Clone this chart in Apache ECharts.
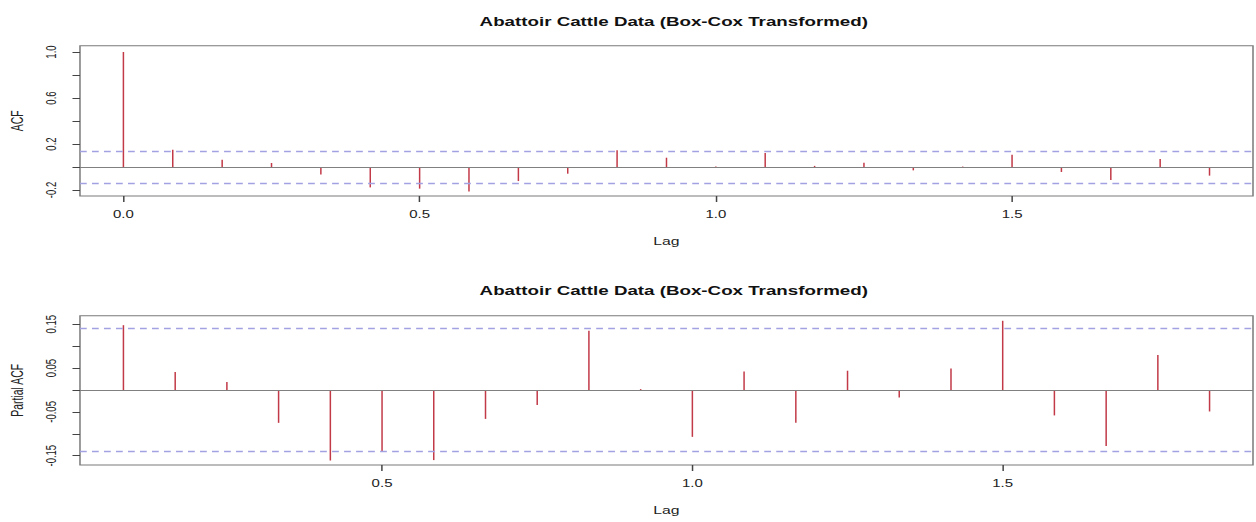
<!DOCTYPE html>
<html><head><meta charset="utf-8">
<script src="https://cdn.jsdelivr.net/npm/echarts@6/dist/echarts.min.js"></script>
<style>
html,body{margin:0;padding:0;background:#fff;overflow:hidden;}
#wrap{width:1256px;height:522px;overflow:hidden;}
#chart{width:837px;height:522px;transform:scaleX(1.5006);transform-origin:0 0;}
</style></head><body><div id="wrap"><div id="chart"></div></div>
<script>
// ---- data ----
var chartTitle = 'Abattoir Cattle Data (Box-Cox Transformed)';
var acfLags = [0, 0.0833, 0.1667, 0.25, 0.3333, 0.4167, 0.5, 0.5833, 0.6667, 0.75, 0.8333, 0.9167,
  1.0, 1.0833, 1.1667, 1.25, 1.3333, 1.4167, 1.5, 1.5833, 1.6667, 1.75, 1.8333];
var acfValues = [1.0, 0.151, 0.064, 0.035, -0.064, -0.177, -0.188, -0.212, -0.122, -0.058, 0.145, 0.081,
  0.005, 0.122, 0.010, 0.038, -0.029, 0.004, 0.107, -0.043, -0.113, 0.070, -0.075];
var pacfLags = [0.0833, 0.1667, 0.25, 0.3333, 0.4167, 0.5, 0.5833, 0.6667, 0.75, 0.8333, 0.9167,
  1.0, 1.0833, 1.1667, 1.25, 1.3333, 1.4167, 1.5, 1.5833, 1.6667, 1.75, 1.8333];
var pacfValues = [0.148, 0.041, 0.018, -0.075, -0.161, -0.139, -0.160, -0.066, -0.034, 0.135, 0.002,
  -0.107, 0.042, -0.075, 0.044, -0.017, 0.049, 0.158, -0.058, -0.128, 0.080, -0.049];
var confLimit = 0.1408;
var acfXTicks = [0, 0.5, 1.0, 1.5];
var pacfXTicks = [0.5, 1.0, 1.5];
var acfYTicks = [-0.2, 0, 0.2, 0.4, 0.6, 0.8, 1.0];
var acfYLabels = [-0.2, 0.2, 0.6, 1.0];
var pacfYTicks = [-0.15, -0.10, -0.05, 0, 0.05, 0.10, 0.15];
var pacfYLabels = [-0.15, -0.05, 0.05, 0.15];

// ---- styles ----
var FONT = '"Liberation Sans", Arial, Helvetica, sans-serif';
var barColor = '#c23a48';
var ciColor = '#a2a2e2';
var boxColor = '#7a7a7a';

function pairs(xs, ys) { return xs.map(function (x, i) { return [x, ys[i]]; }); }

function xAxisCfg(idx, min, max, ticks) {
  return {
    type: 'value', gridIndex: idx, min: min, max: max,
    name: 'Lag', nameLocation: 'middle', nameGap: 40,
    nameTextStyle: { fontSize: 10.5, color: '#222', fontFamily: FONT },
    axisLine: { show: false, onZero: false },
    axisTick: { show: true, length: 6, customValues: ticks, lineStyle: { color: '#444', width: 1 } },
    axisLabel: { show: true, customValues: ticks, margin: 13, fontSize: 10, color: '#222', fontFamily: FONT,
      formatter: function (v) { return v.toFixed(1); } },
    splitLine: { show: false }
  };
}
function yAxisCfg(idx, min, max, ticks, labels, name, digits) {
  return {
    type: 'value', gridIndex: idx, min: min, max: max,
    name: name, nameLocation: 'middle', nameGap: 36, nameRotate: 90,
    nameTextStyle: { fontSize: 10.5, color: '#222', fontFamily: FONT },
    axisLine: { show: false, onZero: false },
    axisTick: { show: true, length: 5, customValues: ticks, lineStyle: { color: '#444', width: 1 } },
    axisLabel: { show: true, customValues: labels, rotate: 90, margin: 14, fontSize: 9.5, color: '#222', fontFamily: FONT,
      formatter: function (v) { return v.toFixed(digits); } },
    splitLine: { show: false }
  };
}
function refLines() {
  return {
    silent: true, symbol: 'none', label: { show: false },
    data: [
      { yAxis: 0, lineStyle: { color: '#808080', type: 'solid', width: 1 } },
      { yAxis: confLimit, lineStyle: { color: ciColor, type: [4.5, 3.5], width: 1.3 } },
      { yAxis: -confLimit, lineStyle: { color: ciColor, type: [4.5, 3.5], width: 1.3 } }
    ]
  };
}

var chart = echarts.init(document.getElementById('chart'), null, { renderer: 'svg' });
chart.setOption({
  animation: false,
  backgroundColor: '#ffffff',
  title: [
    { text: chartTitle, left: 444, top: 10, textAlign: 'center',
      textStyle: { fontSize: 12.5, fontWeight: 'bold', color: '#111', fontFamily: FONT } },
    { text: chartTitle, left: 444, top: 279, textAlign: 'center',
      textStyle: { fontSize: 12.5, fontWeight: 'bold', color: '#111', fontFamily: FONT } }
  ],
  grid: [
    { left: 53.3, right: 2, top: 45.7, height: 150.3, show: true, borderColor: boxColor, borderWidth: 1,
      backgroundColor: 'transparent', outerBoundsMode: 'none', containLabel: false },
    { left: 53.3, right: 2, top: 315.7, height: 149.3, show: true, borderColor: boxColor, borderWidth: 1,
      backgroundColor: 'transparent', outerBoundsMode: 'none', containLabel: false }
  ],
  xAxis: [
    xAxisCfg(0, -0.0733, 1.9067, acfXTicks),
    xAxisCfg(1, 0.0133, 1.9033, pacfXTicks)
  ],
  yAxis: [
    yAxisCfg(0, -0.252, 1.055, acfYTicks, acfYLabels, 'ACF', 1),
    yAxisCfg(1, -0.1712, 0.1696, pacfYTicks, pacfYLabels, 'Partial ACF', 2)
  ],
  series: [
    { type: 'bar', xAxisIndex: 0, yAxisIndex: 0, barWidth: 1, data: pairs(acfLags, acfValues),
      itemStyle: { color: barColor }, markLine: refLines(), z: 3 },
    { type: 'bar', xAxisIndex: 1, yAxisIndex: 1, barWidth: 1, data: pairs(pacfLags, pacfValues),
      itemStyle: { color: barColor }, markLine: refLines(), z: 3 }
  ]
});
</script></body></html>
